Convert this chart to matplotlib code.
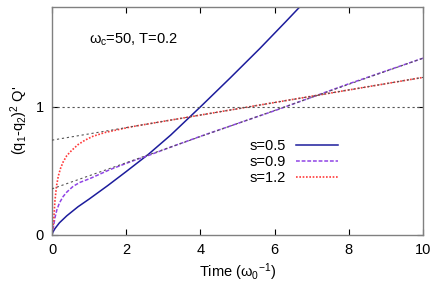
import numpy as np
import matplotlib
matplotlib.use("Agg")
import matplotlib.pyplot as plt

plt.rcParams['font.family'] = ['Liberation Sans', 'DejaVu Sans']
plt.rcParams['mathtext.fontset'] = 'custom'
plt.rcParams['mathtext.rm'] = 'Liberation Sans'
plt.rcParams['mathtext.it'] = 'Liberation Sans'
plt.rcParams['font.size'] = 10.5

# values
t_s05 = [0, 0.02, 0.08, 0.2, 0.4, 0.7, 1.0, 1.5, 2.0, 2.6, 3.2, 4.0, 4.8, 5.6, 6.3, 6.71, 7.0]
y_s05 = [0, 0.02, 0.05, 0.095, 0.15, 0.22, 0.28, 0.385, 0.495, 0.63, 0.78, 1.0, 1.225, 1.455, 1.665, 1.79, 1.88]

t_s09 = [0, 0.01, 0.04, 0.08, 0.13, 0.2, 0.3, 0.4, 0.57, 0.75, 1.02, 1.56, 2.1, 2.64, 3.2, 4, 6, 8, 10]
y_s09 = [0, 0.03, 0.065, 0.135, 0.195, 0.25, 0.30, 0.335, 0.38, 0.41, 0.44, 0.51, 0.57, 0.625, 0.686, 0.77, 0.97, 1.18, 1.38]

t_s12 = [0, 0.01, 0.04, 0.08, 0.12, 0.17, 0.23, 0.3, 0.4, 0.53, 0.7, 0.89, 1.1, 1.43, 2.15, 4, 6, 8, 10]
y_s12 = [0, 0.04, 0.09, 0.27, 0.38, 0.46, 0.52, 0.57, 0.62, 0.66, 0.705, 0.74, 0.77, 0.80, 0.845, 0.936, 1.034, 1.132, 1.23]

# asymptotes
t_asym = [0, 10]
y_unit = [1, 1]
y_asym12 = [0.74, 1.23]
y_asym09 = [0.36, 1.38]

fig = plt.figure(figsize=(4.32, 2.89), dpi=100)
ax = fig.add_axes([0.1204, 0.187, 0.8588, 0.789])

ax.plot(t_s05, y_s05, color='#1c1c9c', lw=1.1, ls='-', label='s=0.5')
ax.plot(t_s09, y_s09, color='#9044e6', lw=1.1, ls=(0, (2.5, 1.2)), label='s=0.9')
ax.plot(t_s12, y_s12, color='#ff3a3a', lw=1.2, ls=(0, (1, 1)), label='s=1.2')

for yy in (y_unit, y_asym12, y_asym09):
    ax.plot(t_asym, yy, color='#555555', lw=0.8, ls=(0, (2, 2.5)), zorder=3)

ax.set_xlim(0, 10)
ax.set_ylim(0, 1.78)
ax.set_xticks([0, 2, 4, 6, 8, 10])
ax.set_yticks([0, 1])
ax.tick_params(direction='in', top=True, right=True, length=4, width=0.8, pad=6)
for sp in ax.spines.values():
    sp.set_color('#808080')
    sp.set_linewidth(1.0)

ax.set_xlabel(r"Time ($\omega_0$$^{-1}$)", labelpad=3)
ax.set_ylabel(r"(q$_1$-q$_2$)$^2$ Q'", labelpad=4)

ax.text(0.10, 0.855, r"$\omega_c$=50, T=0.2", transform=ax.transAxes,
        ha='left', va='center')

ax.legend(loc='center right', bbox_to_anchor=(0.771, 0.32), frameon=False,
          markerfirst=False, handlelength=2.9, handletextpad=0.7,
          labelspacing=0.15, borderpad=0, borderaxespad=0)

fig.savefig("out.png", dpi=100)
